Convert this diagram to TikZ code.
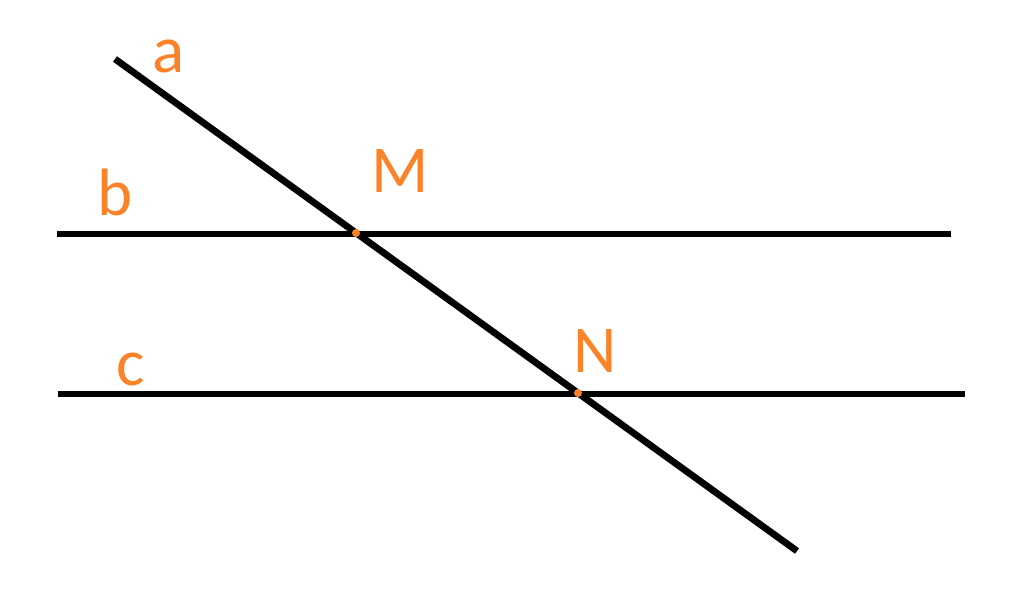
\documentclass[tikz,border=0pt]{standalone}
\usepackage{fontspec}
\setmainfont{Carlito}
\definecolor{lbl}{RGB}{250,130,40}
\begin{document}
\begin{tikzpicture}[x=0.5pt,y=-0.5pt,
  ln/.style={line width=3.4pt,black},
  lab/.style={text=lbl,font=\fontsize{33.5}{36}\selectfont,anchor=base west,inner sep=0pt},
  pt/.style={circle,fill=lbl,inner sep=0pt,minimum size=4pt}]
\useasboundingbox (0,0) rectangle (1024,594);
\coordinate (a1) at (115,59);
\coordinate (a2) at (797,551);
\coordinate (b1) at (57,234);
\coordinate (b2) at (951,234);
\coordinate (c1) at (58,394);
\coordinate (c2) at (965,394);
\draw[ln] (b1) -- (b2);
\draw[ln] (c1) -- (c2);
\draw[ln] (a1) -- (a2);
\node[pt] (M) at (356,233) {};
\node[pt] (N) at (578,393) {};
\node[lab] (la) at (152,72) {a};
\node[lab] (lb) at (97,215) {b};
\node[lab] (lc) at (116,385) {c};
\node[lab] (lM) at (371,192) {M};
\node[lab] (lN) at (573,372) {N};
\end{tikzpicture}
\end{document}
